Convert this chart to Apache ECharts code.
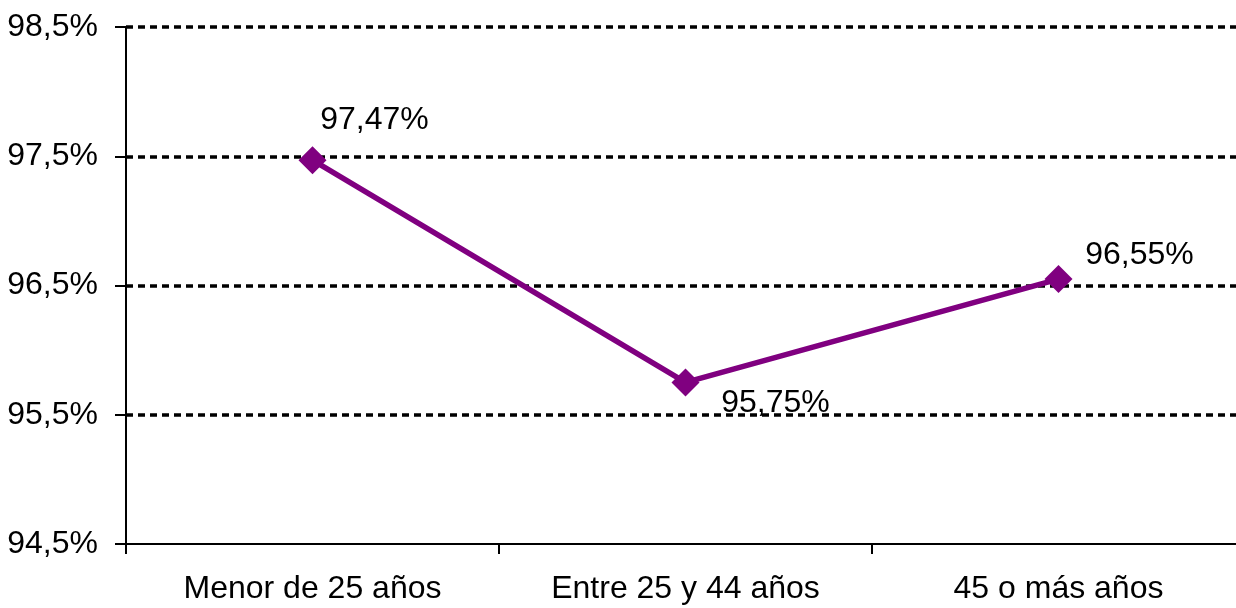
<!DOCTYPE html>
<html>
<head>
<meta charset="utf-8">
<style>
  html, body { margin: 0; padding: 0; background: #fff; overflow: hidden; }
  #chart { width: 1245px; height: 608px; }
</style>
<script src="https://cdn.jsdelivr.net/npm/echarts@6/dist/echarts.min.js"></script>
</head>
<body>
<div id="chart"></div>
<script>
// datos del gráfico
var categorias = ['Menor de 25 años', 'Entre 25 y 44 años', '45 o más años'];
var valores = [97.47, 95.75, 96.55];
var ticksY = [94.5, 95.5, 96.5, 97.5, 98.5];

// desplazamiento de cada etiqueta respecto al punto
var offsets = [[62, -40], [90, 21], [81, -24]];

function fmt(v, dec) {
  return v.toFixed(dec).replace('.', ',') + '%';
}

var chart = echarts.init(document.getElementById('chart'));
chart.setOption({
  animation: false,
  grid: { left: 126, right: 0, top: 27, bottom: 64 },
  xAxis: {
    type: 'category',
    data: categorias,
    boundaryGap: true,
    z: 5,
    axisLine: { lineStyle: { color: '#000', width: 2 } },
    axisTick: { show: true, length: 10, lineStyle: { color: '#000', width: 2 } },
    axisLabel: {
      margin: 29,
      fontFamily: 'Liberation Sans, Arial, sans-serif',
      fontSize: 32,
      color: '#000'
    },
    splitLine: { show: false }
  },
  yAxis: {
    type: 'value',
    min: ticksY[0],
    max: ticksY[ticksY.length - 1],
    interval: 1,
    axisLine: { show: true, lineStyle: { color: '#000', width: 2 } },
    axisTick: { show: true, length: 11, lineStyle: { color: '#000', width: 2 } },
    axisLabel: {
      margin: 28,
      fontFamily: 'Liberation Sans, Arial, sans-serif',
      fontSize: 32,
      color: '#000',
      formatter: function (v) { return fmt(v, 1); }
    },
    splitLine: {
      show: true,
      showMinLine: false,
      lineStyle: { color: '#000', width: 3.5, type: [7, 5] }
    }
  },
  series: [{
    type: 'line',
    data: valores.map(function (v, i) {
      return {
        value: v,
        label: { offset: offsets[i] }
      };
    }),
    symbol: 'diamond',
    symbolSize: 28,
    lineStyle: { color: '#800080', width: 5.5 },
    itemStyle: { color: '#800080' },
    label: {
      show: true,
      position: 'inside',
      fontFamily: 'Liberation Sans, Arial, sans-serif',
      fontSize: 32,
      color: '#000',
      formatter: function (p) { return fmt(p.value, 2); }
    }
  }]
});
</script>
</body>
</html>
